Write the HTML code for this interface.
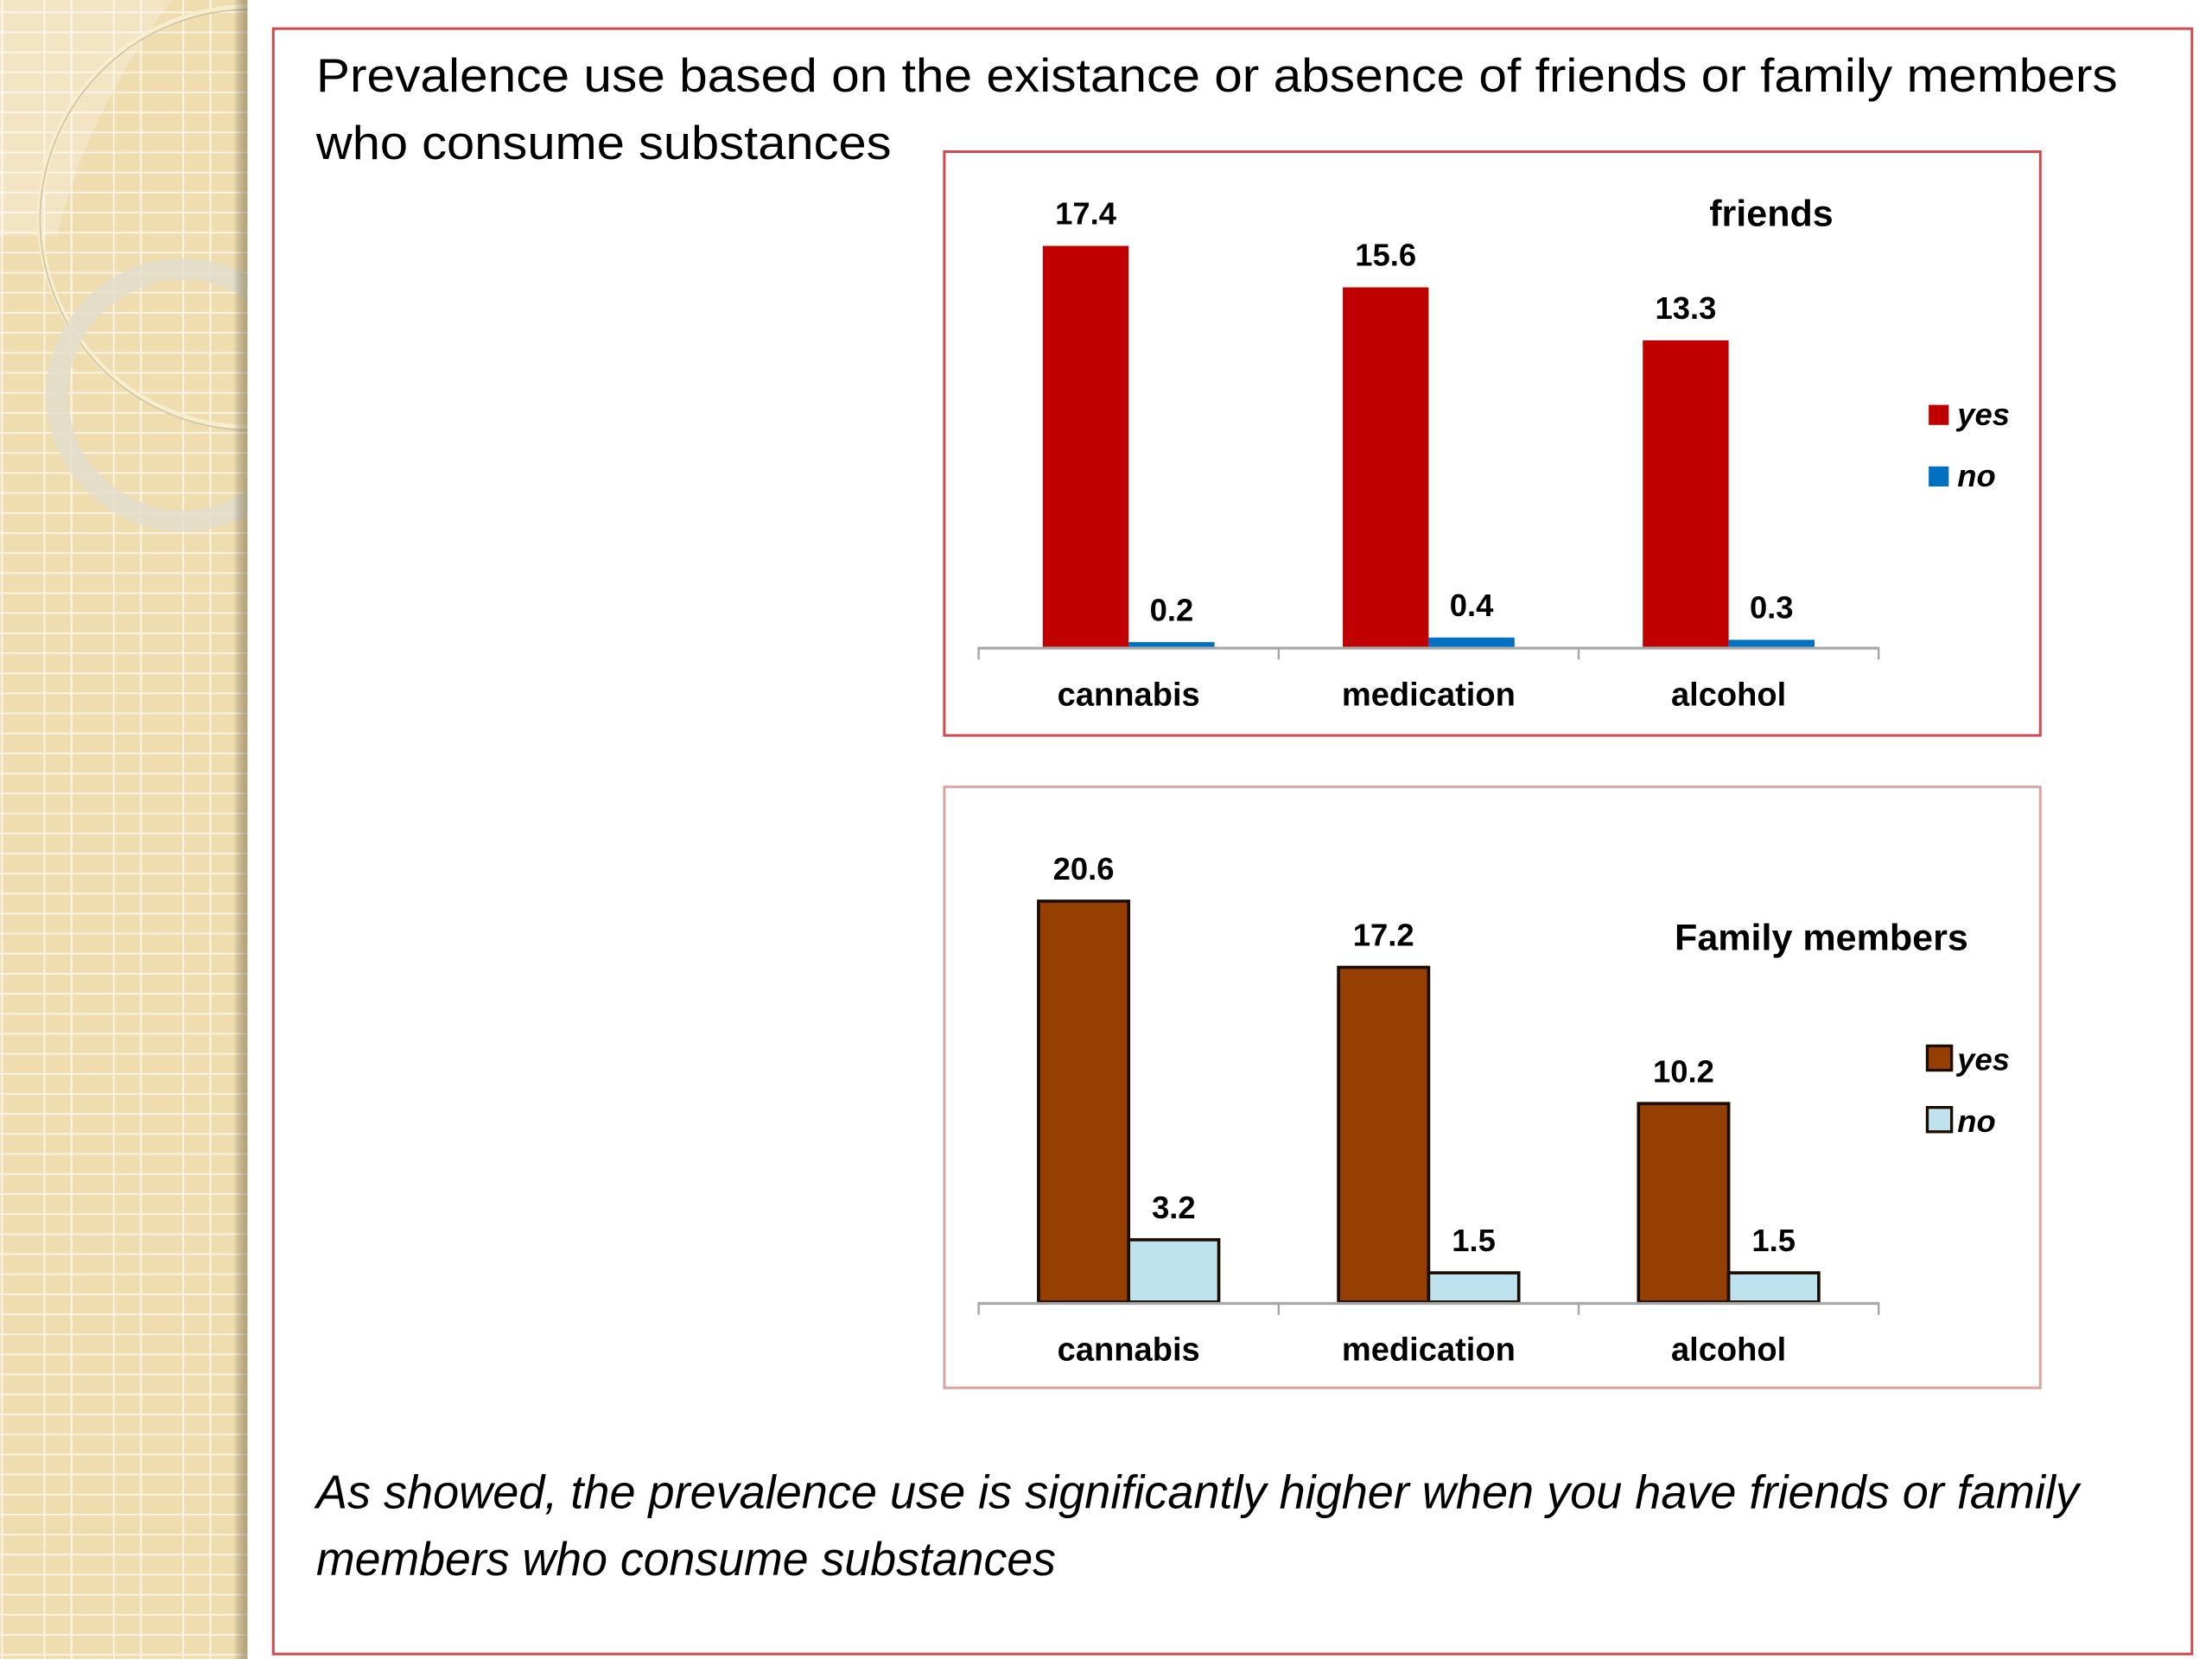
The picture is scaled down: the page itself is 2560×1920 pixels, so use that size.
<!DOCTYPE html>
<html><head><meta charset="utf-8">
<style>
html,body{margin:0;padding:0;background:#fff;}
svg{display:block;}
text{font-family:"Liberation Sans",sans-serif;fill:#000;}
</style></head>
<body>
<svg id="slide" width="2560" height="1920" viewBox="0 0 1546 1159.5" xmlns="http://www.w3.org/2000/svg">
<defs>
<pattern id="grid" width="48.5" height="14" patternUnits="userSpaceOnUse" x="-18" y="-6">
<rect width="48.5" height="14" fill="#EFDDAF"/>
<line x1="0" y1="0.5" x2="48.5" y2="0.5" stroke="#FBF5E6" stroke-width="1.3"/>
<line x1="0.5" y1="0" x2="0.5" y2="14" stroke="#FBF5E6" stroke-width="1.3"/>
<line x1="19.5" y1="0" x2="19.5" y2="14" stroke="#FBF5E6" stroke-width="1.3"/>
</pattern>
<linearGradient id="edge" x1="0" x2="1" y1="0" y2="0">
<stop offset="0" stop-color="#000" stop-opacity="0"/>
<stop offset="1" stop-color="#6b5a30" stop-opacity="0.45"/>
</linearGradient>
<clipPath id="panelclip"><rect x="0" y="0" width="173" height="1160"/></clipPath>
</defs>

<g clip-path="url(#panelclip)">
<rect x="0" y="0" width="173" height="1160" fill="url(#grid)"/>
<path d="M0,0 L120,0 Q60,80 40,165 L0,165 Z" fill="#fff" opacity="0.25"/>
<circle cx="175" cy="152" r="147" fill="none" stroke="#F7EDCF" stroke-width="4"/>
<circle cx="175" cy="153.5" r="147" fill="none" stroke="#b8a680" stroke-width="1" opacity="0.6"/>
<circle cx="128" cy="276" r="88" fill="none" stroke="#E2DDCC" stroke-width="15" opacity="0.85"/>
<rect x="163" y="0" width="10" height="1160" fill="url(#edge)"/>
</g>

<rect x="191" y="20" width="1341" height="1136" fill="#fff" stroke="#D0484C" stroke-width="1.8"/>

<text x="221" y="64" font-size="33" textLength="1259" lengthAdjust="spacingAndGlyphs">Prevalence use based on the existance or absence of friends or family members</text>
<text x="221" y="111" font-size="33" textLength="402" lengthAdjust="spacingAndGlyphs">who consume substances</text>

<g id="chart1">
<rect x="660" y="106" width="766" height="408" fill="#fff" stroke="#D0484C" stroke-width="1.8"/>
</g>
<g id="chart2">
<rect x="660" y="550" width="766" height="420" fill="#fff" stroke="#D9A3A3" stroke-width="1.8"/>
</g>

<text x="221" y="1054" font-size="33" font-style="italic" textLength="1232" lengthAdjust="spacingAndGlyphs">As showed, the prevalence use is significantly higher when you have friends or family</text>
<text x="221" y="1101" font-size="33" font-style="italic" textLength="517" lengthAdjust="spacingAndGlyphs">members who consume substances</text>
</svg>

<script>
const categories = ["cannabis", "medication", "alcohol"];
const friendsYes = [17.4, 15.6, 13.3];
const friendsNo = [0.2, 0.4, 0.3];
const familyYes = [20.6, 17.2, 10.2];
const familyNo = [3.2, 1.5, 1.5];
const seriesNames = ["yes", "no"];

const NS = "http://www.w3.org/2000/svg";
function mk(parent, tag, attrs) {
  const el = document.createElementNS(NS, tag);
  for (const k in attrs) el.setAttribute(k, attrs[k]);
  parent.appendChild(el);
  return el;
}

function drawChart(cfg) {
  const g = document.getElementById(cfg.id);
  const x0 = 684, x1 = 1313;
  const bandW = (x1 - x0) / categories.length;
  const xBand = i => x0 + bandW * i + bandW / 2;
  const yScale = v => cfg.base - v * cfg.ppu;
  const bw = cfg.barW;

  categories.forEach((c, i) => {
    const cx = xBand(i);
    const pairs = [[cfg.yes[i], cx - bw, cfg.yesColor, "yes"], [cfg.no[i], cx, cfg.noColor, "no"]];
    pairs.forEach(p => {
      const v = p[0];
      const top = yScale(v);
      const r = mk(g, "rect", {x: p[1], y: top, width: bw, height: cfg.base - top, fill: p[2]});
      if (cfg.stroke) { r.setAttribute("stroke", cfg.stroke); r.setAttribute("stroke-width", "2.2"); }
      
      
      const t = mk(g, "text", {x: p[1] + bw / 2, y: top - 15, "font-size": 22, "font-weight": "bold", "text-anchor": "middle"});
      t.textContent = v.toFixed(1);
      
      
    });
    const lab = mk(g, "text", {x: cx, y: cfg.base + 41, "font-size": 23, "font-weight": "bold", "text-anchor": "middle"});
    lab.textContent = c;
    
    
  });

  const ax = mk(g, "line", {x1: x0, y1: cfg.base + 1, x2: x1, y2: cfg.base + 1, stroke: "#a8a8a8", "stroke-width": 2});
  
  
  for (let i = 0; i <= categories.length; i++) {
    const tk = mk(g, "line", {x1: x0 + bandW * i, y1: cfg.base, x2: x0 + bandW * i, y2: cfg.base + 9, stroke: "#a8a8a8", "stroke-width": 1.5});
    
    
  }

  const title = mk(g, "text", {x: cfg.titleX, y: cfg.titleY, "font-size": 26, "font-weight": "bold", "text-anchor": "middle"});
  title.textContent = cfg.title;
  
  

  seriesNames.forEach((s, k) => {
    const ly = cfg.legendY + k * 43;
    const sw = mk(g, "rect", {x: cfg.legSwX, y: ly - cfg.legSw, width: cfg.legSw, height: cfg.legSw, fill: k === 0 ? cfg.yesColor : cfg.noColor});
    if (cfg.stroke) { sw.setAttribute("stroke", cfg.stroke); sw.setAttribute("stroke-width", "2"); }
    
    
    const lt = mk(g, "text", {x: 1368, y: ly, "font-size": 22, "font-weight": "bold", "font-style": "italic"});
    lt.textContent = s;
    
    
  });
}

drawChart({id: "chart1", yes: friendsYes, no: friendsNo, base: 452, ppu: 16.1, barW: 60,
  yesColor: "#C00000", noColor: "#0070C0", stroke: null,
  title: "friends", titleX: 1238, titleY: 158, legendY: 297, legSwX: 1348, legSw: 14});
drawChart({id: "chart2", yes: familyYes, no: familyNo, base: 910, ppu: 13.6, barW: 63,
  yesColor: "#963F02", noColor: "#BEE3EE", stroke: "#1a0d00",
  title: "Family members", titleX: 1273, titleY: 664, legendY: 748, legSwX: 1347, legSw: 17});
</script>
</body></html>
